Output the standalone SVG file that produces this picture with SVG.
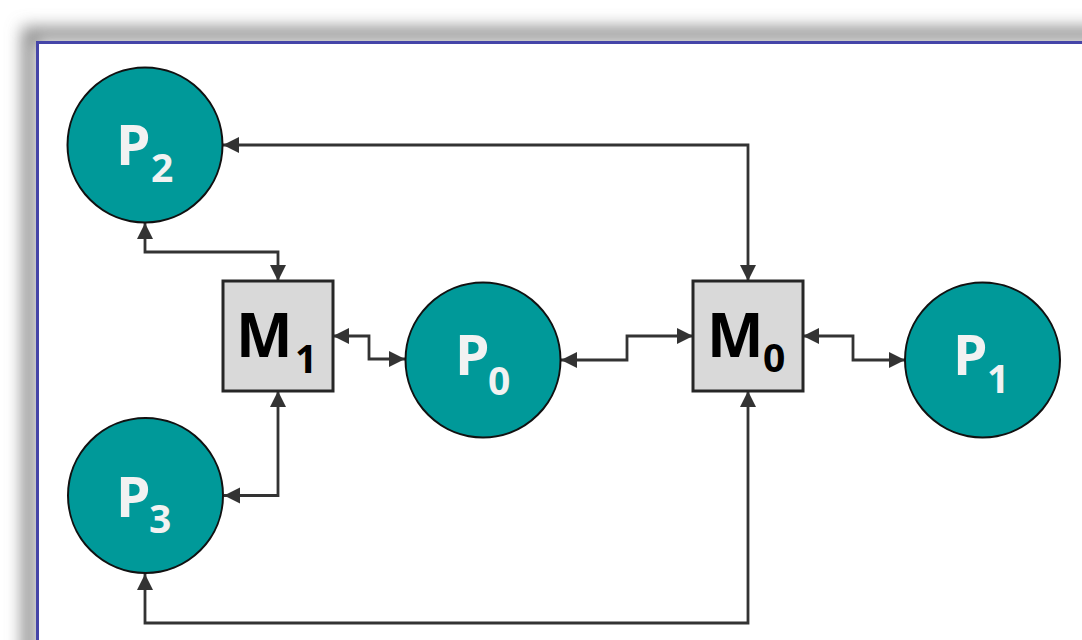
<svg xmlns="http://www.w3.org/2000/svg" width="1082" height="640" viewBox="0 0 1082 640">
<style>
.proc circle{fill:#009999;stroke:#111;stroke-width:2}
.mem rect{fill:#d9d9d9;stroke:#262626;stroke-width:3}
.pt{font-family:"Open Sans","Noto Sans",sans-serif;font-weight:bold;fill:#f2f2f2}
.mt{font-family:"Open Sans","Noto Sans",sans-serif;font-weight:bold;fill:#000}
.big{font-size:55px}
.sub{font-size:39px}
.mbig{font-size:60px}
#connectors path{fill:none;stroke:#333;stroke-width:2.8;marker-start:url(#ah);marker-end:url(#ah)}
</style>
<defs>
<marker id="ah" markerUnits="userSpaceOnUse" markerWidth="17" markerHeight="17" refX="16" refY="8" orient="auto-start-reverse">
<path d="M0,0 L16,8 L0,16 z" fill="#333"/>
</marker>
<filter id="sh" x="-10%" y="-10%" width="120%" height="120%">
<feGaussianBlur stdDeviation="8"/>
</filter>
</defs>
<rect width="1082" height="640" fill="#fff"/>
<g id="frame">
<rect x="29" y="34" width="1120" height="700" fill="none" stroke="#8a8a8a" stroke-width="14" filter="url(#sh)"/>
<rect x="37.5" y="42.5" width="1100" height="700" fill="#fff" stroke="#4545a8" stroke-width="3"/>
</g>
<g id="connectors">
<path d="M223,145 H748 V281"/>
<path d="M145,223 V252 H278 V281"/>
<path d="M333,336 H369 V359 H405"/>
<path d="M561,360 H627 V336 H693"/>
<path d="M803,336 H853 V360 H905"/>
<path d="M278,391 V495.5 H224"/>
<path d="M748,391 V623 H145 V574"/>
</g>
<g id="P2" class="proc"><circle cx="145" cy="145" r="77.5"/>
<text class="pt big" x="116" y="165">P</text><text class="pt sub" x="151" y="182">2</text></g>
<g id="P3" class="proc"><circle cx="145.5" cy="495.5" r="77.5"/>
<text class="pt big" x="116" y="517">P</text><text class="pt sub" x="149" y="533">3</text></g>
<g id="P0" class="proc"><circle cx="483" cy="360" r="77.5"/>
<text class="pt big" x="455" y="375">P</text><text class="pt sub" x="488" y="395">0</text></g>
<g id="P1" class="proc"><circle cx="982.5" cy="360" r="77.5"/>
<text class="pt big" x="953" y="375">P</text><text class="pt sub" x="987" y="393">1</text></g>
<g id="M1" class="mem"><rect x="223" y="281" width="110" height="110"/>
<text class="mt mbig" x="236" y="357">M</text><text class="mt sub" x="295" y="373">1</text></g>
<g id="M0" class="mem"><rect x="693" y="281" width="110" height="110"/>
<text class="mt mbig" x="707" y="357">M</text><text class="mt sub" x="763" y="372">0</text></g>
</svg>
